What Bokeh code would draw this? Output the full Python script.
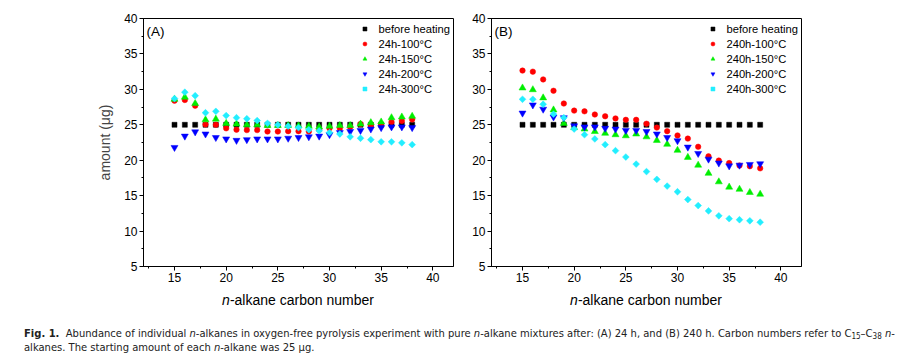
import numpy as np
from bokeh.plotting import figure
from bokeh.models import Label, SingleIntervalTicker, Div, Range1d
from bokeh.layouts import row, column
from bokeh.embed import file_html
from bokeh.resources import INLINE

# ---------------- data ----------------
carbon = [15, 16, 17, 18, 19, 20, 21, 22, 23, 24, 25, 26,
          27, 28, 29, 30, 31, 32, 33, 34, 35, 36, 37, 38]
before_heating = [25.0, 25.0, 25.0, 25.0, 25.0, 25.0, 25.0, 25.0, 25.0, 25.0, 25.0, 25.0,
                  25.0, 25.0, 25.0, 25.0, 25.0, 25.0, 25.0, 25.0, 25.0, 25.0, 25.0, 25.0]

a_100 = [28.4, 28.5, 27.7, 25.05, 25.0, 24.5, 24.3, 24.25, 24.25, 24.05, 24.05, 24.1,
         24.1, 24.05, 24.3, 24.5, 24.5, 24.7, 25.1, 24.95, 25.1, 25.4, 25.55, 25.75]
a_150 = [28.6, 28.9, 28.0, 25.7, 25.8, 25.2, 25.1, 25.0, 25.0, 24.9, 24.9, 24.9,
         24.85, 24.8, 24.7, 24.8, 24.9, 24.9, 25.1, 25.3, 25.4, 26.0, 26.1, 26.2]
a_200 = [21.8, 23.4, 24.0, 23.7, 23.2, 23.0, 22.8, 22.9, 23.0, 23.0, 23.0, 23.1,
         23.2, 23.3, 23.4, 23.6, 23.9, 24.05, 24.2, 24.4, 24.6, 24.7, 24.7, 24.6]
a_300 = [28.7, 29.6, 29.1, 26.7, 26.9, 26.3, 26.0, 25.85, 25.6, 25.2, 25.0, 24.8,
         24.6, 24.3, 24.15, 23.9, 23.7, 23.3, 23.1, 22.9, 22.6, 22.6, 22.45, 22.2]

b_100 = [32.65, 32.5, 31.4, 29.8, 28.0, 27.0, 26.9, 26.45, 26.2, 25.9, 25.7, 25.7,
         25.15, 24.6, 24.1, 23.5, 23.05, 21.9, 20.55, 19.95, 19.6, 19.25, 19.15, 18.85]
b_150 = [30.2, 29.95, 28.8, 27.1, 25.2, 24.6, 24.4, 24.05, 23.8, 23.6, 23.45, 23.7,
         23.3, 22.8, 22.25, 21.4, 20.4, 19.3, 18.15, 16.95, 16.2, 15.9, 15.45, 15.2]
b_200 = [26.65, 27.8, 27.2, 26.1, 26.0, 24.85, 24.7, 24.7, 24.5, 24.4, 24.2, 24.2,
         24.05, 23.7, 23.2, 22.75, 21.85, 20.95, 20.15, 19.6, 19.2, 19.3, 19.4, 19.5]
b_300 = [28.6, 28.6, 27.9, 26.5, 26.0, 24.4, 23.6, 23.0, 22.2, 21.35, 20.45, 19.45,
         18.4, 17.3, 16.35, 15.55, 14.45, 13.6, 12.85, 12.15, 11.75, 11.6, 11.45, 11.25]

labels_a = ["before heating", "24h-100\u00b0C", "24h-150\u00b0C", "24h-200\u00b0C", "24h-300\u00b0C"]
labels_b = ["before heating", "240h-100\u00b0C", "240h-150\u00b0C", "240h-200\u00b0C", "240h-300\u00b0C"]

X_RANGE = (12, 42)
Y_RANGE = (5, 40)

FONT = "Liberation Sans"
FRAME_W = 310
FRAME_H = 248
TOP = 18
BOTTOM = 22
RIGHT = 10


def make_panel(series, labels, tag, show_ylabel, left_border):
    p = figure(width=left_border + FRAME_W + RIGHT, height=TOP + FRAME_H + BOTTOM,
               x_range=Range1d(*X_RANGE), y_range=Range1d(*Y_RANGE),
               output_backend="svg", toolbar_location=None,
               min_border_left=left_border, min_border_right=RIGHT,
               min_border_top=TOP, min_border_bottom=BOTTOM)
    p.grid.visible = False
    p.outline_line_color = "black"
    p.outline_line_alpha = 1.0
    p.outline_line_width = 1
    p.background_fill_color = "white"
    p.border_fill_color = "white"

    for ax in (p.xaxis[0], p.yaxis[0]):
        ax.axis_line_color = "black"
        ax.major_tick_line_color = "black"
        ax.minor_tick_line_color = "black"
        ax.major_tick_out = 4
        ax.major_tick_in = 0
        ax.minor_tick_out = 2
        ax.minor_tick_in = 0
        ax.major_label_text_font = FONT
        ax.major_label_text_font_size = "12px"
        ax.major_label_text_color = "black"
        ax.major_label_standoff = 2
    p.xaxis[0].ticker = SingleIntervalTicker(interval=5, num_minor_ticks=2)
    p.yaxis[0].ticker = SingleIntervalTicker(interval=5, num_minor_ticks=2)

    if show_ylabel:
        p.yaxis[0].axis_label = "amount (\u03bcg)"
        p.yaxis[0].axis_label_text_font = FONT
        p.yaxis[0].axis_label_text_font_size = "14px"
        p.yaxis[0].axis_label_text_font_style = "normal"
        p.yaxis[0].axis_label_standoff = 8

    styles = [
        dict(marker="square", color="black", size=5),
        dict(marker="circle", color="#ff0000", size=5.5),
        dict(marker="triangle", color="#00ee00", size=7),
        dict(marker="inverted_triangle", color="#0000ff", size=7),
        dict(marker="square", color="#22eeff", size=4.8, angle=np.pi / 4),
    ]
    for ys, lab, st in zip(series, labels, styles):
        p.scatter(carbon, ys, marker=st["marker"], size=st["size"],
                  fill_color=st["color"], line_color=st["color"], line_width=0.5,
                  angle=st.get("angle", 0.0), legend_label=lab)

    lg = p.legend[0]
    lg.location = "top_right"
    lg.margin = 0
    lg.padding = 3
    lg.spacing = 0
    lg.border_line_alpha = 0
    lg.background_fill_alpha = 0
    lg.glyph_width = 10
    lg.glyph_height = 15
    lg.label_height = 15
    lg.label_standoff = 9
    lg.label_text_font = FONT
    lg.label_text_font_size = "11.2px"
    lg.label_text_color = "black"

    # panel tag
    py = FRAME_H / (Y_RANGE[1] - Y_RANGE[0])
    px = FRAME_W / (X_RANGE[1] - X_RANGE[0])
    p.add_layout(Label(x=X_RANGE[0] + 3 / px, y=Y_RANGE[1] - 13 / py, text=tag,
                       text_font=FONT, text_font_size="13.5px",
                       text_baseline="middle", text_align="left", text_color="black"))
    return p


pA = make_panel([before_heating, a_100, a_150, a_200, a_300], labels_a, "(A)", True, 143)
pB = make_panel([before_heating, b_100, b_150, b_200, b_300], labels_b, "(B)", False, 28)


def x_title(left_border):
    html = (
        f"<div style=\"font-family:'Liberation Sans',Arial,sans-serif;font-size:14px;"
        f"line-height:24px;height:24px;color:black;white-space:nowrap;"
        f"margin-left:{left_border}px;width:{FRAME_W}px;text-align:center;\">"
        "<i>n</i>-alkane carbon number</div>"
    )
    return Div(text=html, width=left_border + FRAME_W + RIGHT, height=24, margin=0)


tA = x_title(143)
tB = x_title(28)

caption_html = (
    "<div style=\"font-family:'DejaVu Sans',sans-serif;font-stretch:condensed;"
    "font-size:11.1px;line-height:14px;color:#222;white-space:nowrap;padding:15px 0 0 24px;\">"
    "<b>Fig. 1.</b>&nbsp; Abundance of individual <i>n</i>-alkanes in oxygen-free pyrolysis "
    "experiment with pure <i>n</i>-alkane mixtures after: (A) 24 h, and (B) 240 h. Carbon numbers "
    "refer to C<sub style='font-size:8px;line-height:0;vertical-align:-2px'>15</sub>\u2013"
    "C<sub style='font-size:8px;line-height:0;vertical-align:-2px'>38</sub> <i>n</i>-<br>"
    "alkanes. The starting amount of each <i>n</i>-alkane was 25 \u00b5g.</div>"
)
caption = Div(text=caption_html, width=892, height=50, margin=0)

layout = column(row(pA, pB), row(tA, tB), caption)
open("out.html", "w").write(file_html(layout, INLINE))
